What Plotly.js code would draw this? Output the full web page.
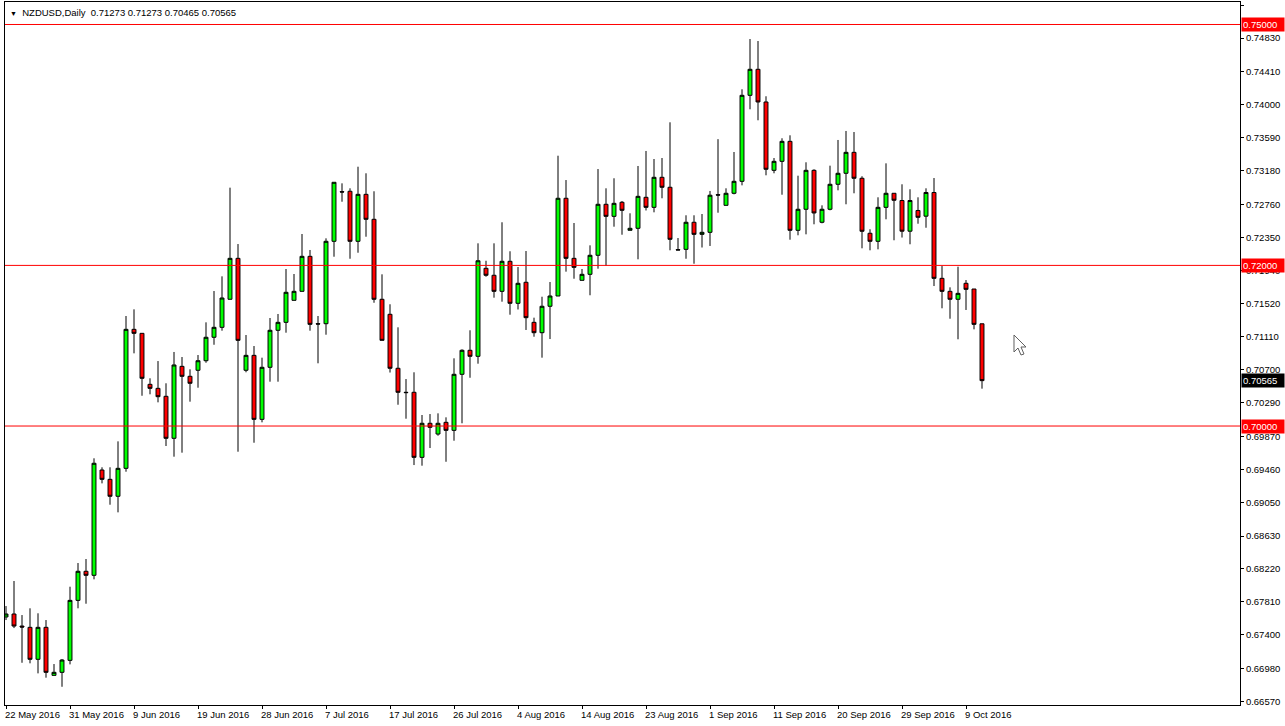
<!DOCTYPE html>
<html>
<head>
<meta charset="utf-8">
<script src="https://cdn.plot.ly/plotly-3.0.1.min.js"></script>
<style>
html,body{margin:0;padding:0;background:#fff;}
#chart{width:1285px;height:726px;}
</style>
</head>
<body>
<div id="chart"></div>
<script>
// NZDUSD Daily, one bar per trading day (Sun-Fri), 22 May 2016 .. 11 Oct 2016
const symbolTitle = 'NZDUSD,Daily';
const dateLabels = ['22 May 2016','31 May 2016','9 Jun 2016','19 Jun 2016','28 Jun 2016','7 Jul 2016','17 Jul 2016','26 Jul 2016','4 Aug 2016','14 Aug 2016','23 Aug 2016','1 Sep 2016','11 Sep 2016','20 Sep 2016','29 Sep 2016','9 Oct 2016'];
const barsPerLabel = 8;

const open = [
0.67622,0.67659,0.67509,0.67493,0.67095,0.67493,0.66895,0.66933,0.67082,0.67829,
0.68191,0.68141,0.69452,0.69336,0.69125,0.69473,0.71204,0.71154,0.70519,0.70469,
0.70370,0.69847,0.70743,0.70619,0.70694,0.70813,0.71105,0.71229,0.71578,0.72088,
0.70694,0.70880,0.70083,0.70731,0.71192,0.71291,0.71565,0.71677,0.72113,0.71274,
0.71274,0.72300,0.72918,0.72923,0.72300,0.72885,0.72574,0.71578,0.71391,0.70719,
0.70420,0.70420,0.69610,0.70034,0.69900,0.70046,0.69946,0.70644,0.70943,0.70868,
0.71964,0.71877,0.71677,0.72051,0.71528,0.71790,0.71291,0.71162,0.71491,0.71619,
0.72836,0.72088,0.71814,0.71889,0.72126,0.72761,0.72611,0.72786,0.72437,0.72462,
0.72848,0.72723,0.73097,0.72973,0.72196,0.72200,0.72537,0.72387,0.72412,0.72880,
0.72748,0.72898,0.73047,0.74118,0.74442,0.74035,0.73184,0.73296,0.73545,0.72437,
0.72699,0.73184,0.72537,0.72699,0.73010,0.73147,0.73408,0.73085,0.72400,0.72300,
0.72723,0.72898,0.72808,0.72426,0.72684,0.72613,0.72908,0.71839,0.71677,0.71578,
0.71777,0.71706,0.71273];

const high = [
0.67758,0.68070,0.67646,0.67730,0.67668,0.67584,0.67036,0.67098,0.67999,0.68294,
0.68344,0.69598,0.69486,0.69486,0.69809,0.71370,0.71453,0.71154,0.70594,0.70809,
0.70532,0.70922,0.70859,0.70706,0.70884,0.71291,0.71681,0.71864,0.72968,0.72266,
0.71133,0.70996,0.70851,0.71345,0.71395,0.71955,0.71893,0.72391,0.72192,0.71370,
0.72337,0.73035,0.73022,0.72960,0.73229,0.73147,0.72923,0.71889,0.71516,0.71229,
0.70585,0.70669,0.70137,0.70149,0.70158,0.70108,0.70843,0.70955,0.71192,0.72275,
0.72058,0.72275,0.72537,0.72176,0.71980,0.72179,0.71349,0.71610,0.71793,0.73366,
0.73063,0.72528,0.71955,0.72250,0.73200,0.72960,0.73085,0.72802,0.72649,0.73238,
0.73425,0.73325,0.73337,0.73782,0.72341,0.72624,0.72624,0.72640,0.72927,0.73572,
0.72960,0.73412,0.74193,0.74819,0.74794,0.74106,0.73337,0.73583,0.73620,0.73117,
0.73284,0.73197,0.72748,0.73242,0.73562,0.73674,0.73661,0.73110,0.72450,0.72848,
0.73271,0.72898,0.73010,0.72948,0.72848,0.72960,0.73088,0.71992,0.71727,0.71984,
0.71818,0.71706,0.71273];

const low = [
0.67584,0.67484,0.67052,0.67045,0.66920,0.66866,0.66895,0.66753,0.67032,0.67730,
0.67787,0.68091,0.69286,0.69020,0.68925,0.69431,0.70905,0.70377,0.70395,0.70295,
0.69751,0.69618,0.69668,0.70303,0.70477,0.70788,0.71012,0.71187,0.71578,0.69680,
0.70669,0.69792,0.70046,0.70552,0.70552,0.71162,0.71565,0.71677,0.71187,0.70781,
0.71137,0.72108,0.72793,0.72083,0.72158,0.72357,0.71535,0.71067,0.70666,0.70265,
0.70091,0.69514,0.69506,0.69726,0.69879,0.69555,0.69817,0.70034,0.70601,0.70776,
0.71859,0.71598,0.71548,0.71386,0.71451,0.71196,0.71112,0.70851,0.71083,0.71619,
0.71922,0.71834,0.71814,0.71628,0.71959,0.71996,0.72482,0.72382,0.72437,0.72076,
0.72684,0.72661,0.72836,0.72188,0.72192,0.72083,0.72021,0.72223,0.72242,0.72656,
0.72748,0.72885,0.72997,0.73944,0.73807,0.73122,0.73147,0.72880,0.72320,0.72375,
0.72387,0.72512,0.72524,0.72686,0.72935,0.72761,0.72898,0.72213,0.72188,0.72200,
0.72574,0.72313,0.72347,0.72263,0.72519,0.72469,0.71743,0.71466,0.71336,0.71080,
0.71445,0.71204,0.70465];

const close = [
0.67659,0.67509,0.67497,0.67095,0.67493,0.66933,0.66933,0.67086,0.67829,0.68191,
0.68141,0.69536,0.69336,0.69125,0.69473,0.71204,0.71154,0.70594,0.70469,0.70365,
0.69847,0.70760,0.70619,0.70532,0.70813,0.71105,0.71229,0.71594,0.72088,0.71067,
0.70880,0.70083,0.70731,0.71192,0.71291,0.71665,0.71677,0.72113,0.71266,0.71270,
0.72300,0.73035,0.72914,0.72300,0.72885,0.72574,0.71578,0.71067,0.70719,0.70420,
0.70416,0.69610,0.70034,0.69984,0.70034,0.69946,0.70644,0.70943,0.70868,0.72058,
0.71877,0.71677,0.72051,0.71528,0.71777,0.71349,0.71162,0.71491,0.71619,0.72836,
0.72088,0.71976,0.71889,0.72126,0.72761,0.72611,0.72773,0.72686,0.72462,0.72860,
0.72723,0.73097,0.72973,0.72325,0.72192,0.72537,0.72387,0.72412,0.72874,0.72876,
0.72898,0.73047,0.74118,0.74442,0.74035,0.73197,0.73296,0.73545,0.72437,0.72699,
0.73184,0.72653,0.72699,0.73010,0.73147,0.73408,0.73085,0.72425,0.72300,0.72723,
0.72898,0.72811,0.72426,0.72808,0.72599,0.72908,0.71839,0.71677,0.71578,0.71652,
0.71702,0.71266,0.70565];

const priceTicks = [0.75240,0.74830,0.74410,0.74000,0.73590,0.73180,0.72760,0.72350,0.71940,0.71520,0.71110,0.70700,0.70290,0.69870,0.69460,0.69050,0.68630,0.68220,0.67810,0.67400,0.66980,0.66570];
const levelLines = [0.75000, 0.72000, 0.70000];

// ---- build ----
const n = open.length;
const idx = open.map((_, i) => i);
const labelIdx = dateLabels.map((_, k) => k * barsPerLabel);
const FONT = 'Liberation Sans, Arial, sans-serif';

const trace = {
  type: 'candlestick',
  x: idx, open: open, high: high, low: low, close: close,
  increasing: {fillcolor: '#00ff00', line: {color: '#000000', width: 1}},
  decreasing: {fillcolor: '#ff0000', line: {color: '#000000', width: 1}},
  whiskerwidth: 0,
  hoverinfo: 'skip',
  showlegend: false
};

const shapes = levelLines.map(v => ({
  type: 'line', xref: 'paper', x0: 0, x1: 1, yref: 'y', y0: v, y1: v,
  line: {color: '#ff0000', width: 1}, layer: 'above'
}));
// mouse cursor
shapes.push({
  type: 'path', xref: 'paper', yref: 'paper',
  path: 'M 0.81700,0.52632 L 0.81700,0.50213 L 0.82024,0.50782 L 0.82267,0.49787 L 0.82510,0.49929 L 0.82267,0.50925 L 0.82672,0.50925 Z',
  fillcolor: '#ffffff', line: {color: '#606060', width: 1}, layer: 'above'
});

const annotations = [];
annotations.push({
  xref: 'paper', yref: 'paper', x: 0, y: 1, xanchor: 'left', yanchor: 'top',
  xshift: 3, yshift: -3, showarrow: false,
  text: '<span style="font-size:7px">▼</span>  ' + symbolTitle + '  ' + open[n-1].toFixed(5) + ' ' + high[n-1].toFixed(5) + ' ' + low[n-1].toFixed(5) + ' ' + close[n-1].toFixed(5),
  font: {family: FONT, size: 9.5, color: '#000'}
});
dateLabels.forEach((t, k) => {
  annotations.push({
    xref: 'x', yref: 'paper', x: labelIdx[k], y: 0, xanchor: 'left', yanchor: 'top',
    xshift: -3, yshift: -2, showarrow: false, text: t,
    font: {family: FONT, size: 9.5, color: '#000'}
  });
});
levelLines.forEach(v => {
  annotations.push({
    xref: 'paper', yref: 'y', x: 1, y: v, xanchor: 'left', yanchor: 'middle',
    xshift: 1, showarrow: false, text: v.toFixed(5),
    bgcolor: '#ff0000', borderpad: 1, width: 40, align: 'left',
    font: {family: FONT, size: 9.5, color: '#ffffff'}
  });
});
annotations.push({
  xref: 'paper', yref: 'y', x: 1, y: close[n-1], xanchor: 'left', yanchor: 'middle',
  xshift: 1, showarrow: false, text: close[n-1].toFixed(5),
  bgcolor: '#000000', borderpad: 1, width: 40, align: 'left',
  font: {family: FONT, size: 9.5, color: '#ffffff'}
});

const layout = {
  width: 1285, height: 726,
  margin: {l: 5, r: 45, t: 2, b: 21, pad: 0},
  paper_bgcolor: '#ffffff', plot_bgcolor: '#ffffff',
  showlegend: false,
  xaxis: {
    type: 'linear', range: [-0.125, 154.25], fixedrange: true,
    rangeslider: {visible: false},
    showgrid: false, zeroline: false,
    showline: true, mirror: true, linecolor: '#000', linewidth: 1,
    tickmode: 'array', tickvals: labelIdx, ticktext: labelIdx.map(() => ''),
    ticks: 'outside', ticklen: 3, tickcolor: '#000', showticklabels: false
  },
  yaxis: {
    side: 'right', range: [0.66526, 0.75280], fixedrange: true,
    showgrid: false, zeroline: false,
    showline: true, mirror: true, linecolor: '#000', linewidth: 1,
    tickmode: 'array', tickvals: priceTicks, ticktext: priceTicks.map(v => v.toFixed(5)),
    ticks: 'outside', ticklen: 3, tickcolor: '#000',
    tickfont: {family: FONT, size: 9.5, color: '#000'}
  },
  shapes: shapes,
  annotations: annotations
};

Plotly.newPlot('chart', [trace], layout, {staticPlot: true, displayModeBar: false});
</script>
</body>
</html>
